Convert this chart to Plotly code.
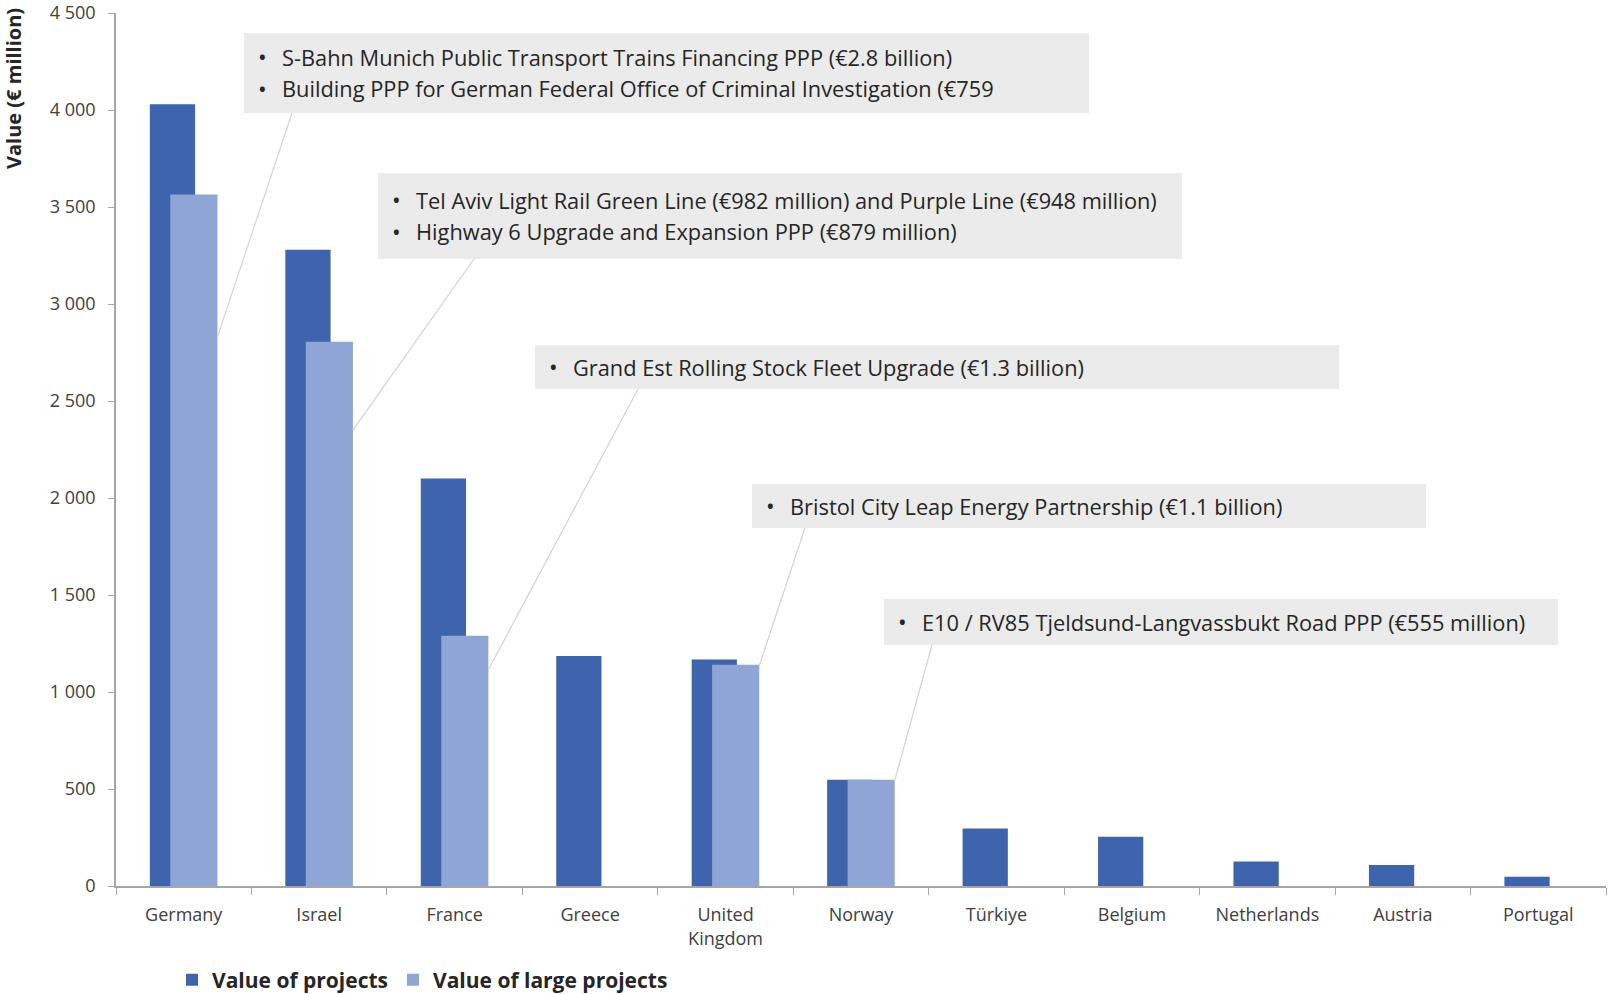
import plotly.graph_objects as go

countries = ["Germany", "Israel", "France", "Greece", "United<br>Kingdom", "Norway",
             "Türkiye", "Belgium", "Netherlands", "Austria", "Portugal"]
value_projects = [4030, 3280, 2100, 1186, 1167, 548, 297, 254, 126, 108, 48]
value_large = [3565, 2805, 1290, None, 1141, 548, None, None, None, None, None]

y_ticks = [0, 500, 1000, 1500, 2000, 2500, 3000, 3500, 4000, 4500]

# annotation content: (lines, box px [x0, y0, x1, y1], leader start px, category index, leader end value)
callouts = [
    (["S-Bahn Munich Public Transport Trains Financing PPP (€2.8 billion)",
      "Building PPP for German Federal Office of Criminal Investigation (€759"],
     (244, 33, 1089, 113), (292, 113), 0, 2830),
    (["Tel Aviv Light Rail Green Line (€982 million) and Purple Line (€948 million)",
      "Highway 6 Upgrade and Expansion PPP (€879 million)"],
     (378, 173, 1182, 259), (474, 259), 1, 2350),
    (["Grand Est Rolling Stock Fleet Upgrade (€1.3 billion)"],
     (535, 345, 1339, 389), (638, 389), 2, 1115),
    (["Bristol City Leap Energy Partnership (€1.1 billion)"],
     (752, 484, 1426, 528), (805, 528), 4, 1136),
    (["E10 / RV85 Tjeldsund-Langvassbukt Road PPP (€555 million)"],
     (884, 599, 1558, 645), (932, 645), 5, 544),
]

W, H = 1609, 994
ML, MR, MT, MB = 116, 3, 13, 108
PW, PH = W - ML - MR, H - MT - MB

def px(x):
    return (x - ML) / PW

def py(y):
    return (H - MB - y) / PH

DARK = "#3D64AD"
LIGHT = "#8FA5D5"
FONT = "Open Sans"
TXT = "#262626"

fig = go.Figure()
fig.add_trace(go.Bar(x=countries, y=value_projects, name="Value of projects",
                     marker=dict(color=DARK, line=dict(width=0)),
                     offset=-0.25, width=0.334))
fig.add_trace(go.Bar(x=countries, y=value_large, name="Value of large projects",
                     marker=dict(color=LIGHT, line=dict(width=0)),
                     offset=-0.099, width=0.348))

shapes = []
annotations = []
for lines, box, start, idx, endval in callouts:
    x0, y0, x1, y1 = box
    shapes.append(dict(type="rect", xref="paper", yref="paper",
                       x0=px(x0), x1=px(x1), y0=py(y1), y1=py(y0),
                       fillcolor="#EBEBEB", line=dict(width=0), layer="above"))
    shapes.append(dict(type="line", xref="paper", yref="paper",
                       x0=px(start[0]), y0=py(start[1]),
                       x1=(idx + 0.5 + (-0.099 + 0.348)) / len(countries),
                       y1=endval / 4500,
                       line=dict(color="#D3D3D3", width=1.2), layer="above"))
    n = len(lines)
    cy = (y0 + y1) / 2
    for k, line in enumerate(lines):
        ly = cy + (k - (n - 1) / 2) * 31.5
        annotations.append(dict(xref="paper", yref="paper", x=px(x0 + 12), y=py(ly),
                                text="•", showarrow=False, xanchor="left", yanchor="middle",
                                font=dict(family=FONT, size=23, color=TXT)))
        annotations.append(dict(xref="paper", yref="paper", x=px(x0 + 36), y=py(ly),
                                text=line, showarrow=False, xanchor="left", yanchor="middle",
                                font=dict(family=FONT, size=21.8, color=TXT)))

annotations.append(dict(xref="paper", yref="paper", x=px(13), y=py(88),
                        text="<b>Value (€ million)</b>", textangle=-90, showarrow=False,
                        xanchor="center", yanchor="middle",
                        font=dict(family=FONT, size=20, color=TXT)))

fig.update_layout(
    width=W, height=H, autosize=False,
    margin=dict(l=ML, r=MR, t=MT, b=MB, autoexpand=False),
    paper_bgcolor="white", plot_bgcolor="white",
    barmode="overlay", separators=". ",
    font=dict(family=FONT, size=18, color="#404040"),
    shapes=shapes, annotations=annotations,
    showlegend=True,
    legend=dict(orientation="h", x=px(172), y=py(980), yanchor="middle", xanchor="left",
                font=dict(family=FONT, size=21, color=TXT, weight="bold"),
                itemwidth=30, traceorder="normal", bgcolor="rgba(0,0,0,0)"),
    xaxis=dict(showline=True, linecolor="#A6A6A6", linewidth=1.5, ticks="outside",
               tickson="boundaries", ticklen=7, tickcolor="#A6A6A6", showgrid=False,
               automargin=False, ticklabelstandoff=12,
               tickfont=dict(family=FONT, size=18, color="#404040")),
    yaxis=dict(range=[0, 4500], tickvals=y_ticks, tickformat=",", showline=True,
               linecolor="#A6A6A6", linewidth=1.5, ticks="outside", ticklen=6,
               tickcolor="#A6A6A6", showgrid=False, zeroline=False,
               ticklabelstandoff=9, automargin=False, ticklabeloverflow="allow",
               tickfont=dict(family=FONT, size=18, color="#404040")),
)

fig.write_html("out.html", config={"displayModeBar": False},
               post_script="document.body.style.margin='0';document.body.style.overflow='hidden';")
